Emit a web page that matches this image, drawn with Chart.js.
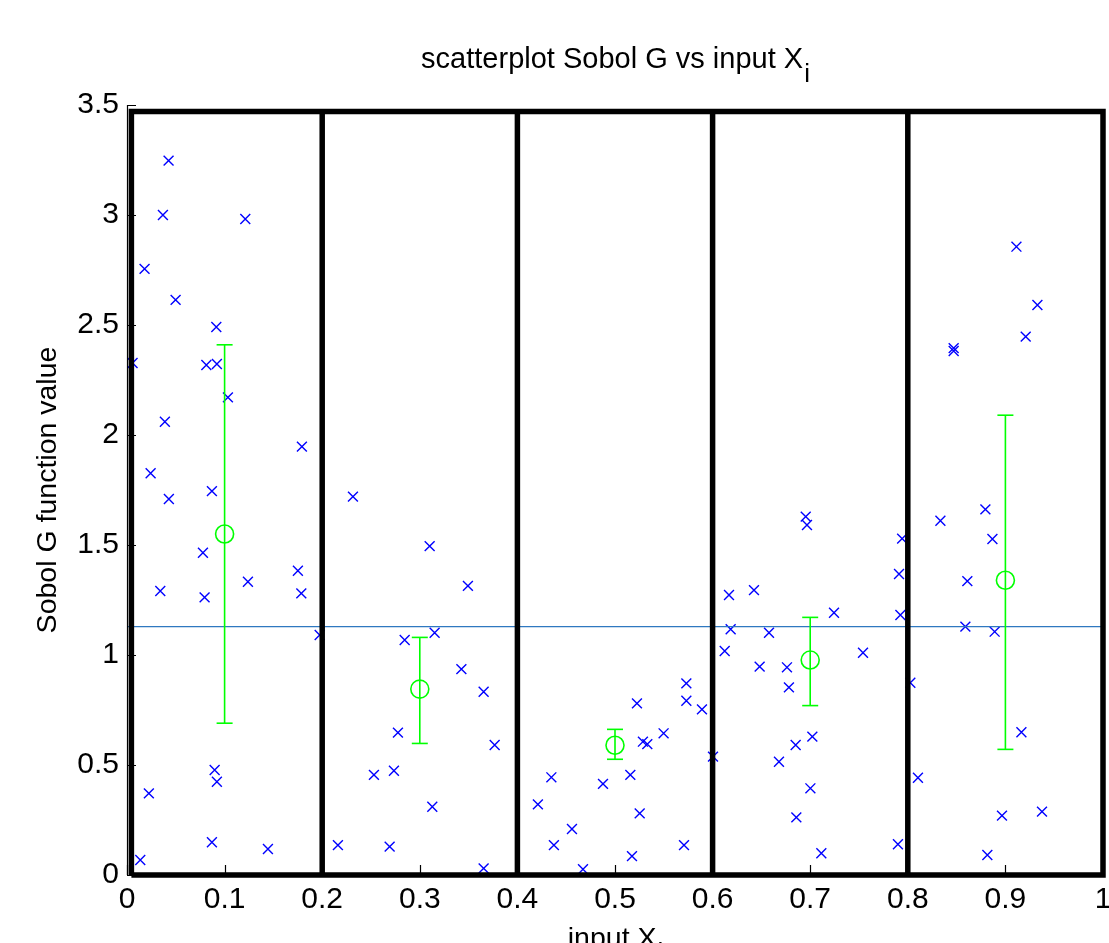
<!DOCTYPE html>
<html><head><meta charset="utf-8">
<script src="https://cdn.jsdelivr.net/npm/chart.js@4"></script>
<style>html,body{margin:0;padding:0;background:#fff;overflow:hidden}canvas{display:block}</style>
</head><body>
<canvas id="c" width="1109" height="943" style="width:1109px;height:943px"></canvas>
<script>
// ---------- data ----------
const xTickValues = [0, 0.1, 0.2, 0.3, 0.4, 0.5, 0.6, 0.7, 0.8, 0.9, 1];
const xTickLabels = ['0', '0.1', '0.2', '0.3', '0.4', '0.5', '0.6', '0.7', '0.8', '0.9', '1'];
const yTickValues = [0, 0.5, 1, 1.5, 2, 2.5, 3, 3.5];
const yTickLabels = ['0', '0.5', '1', '1.5', '2', '2.5', '3', '3.5'];

const sampleX = [
  0.0057,0.018,0.0426,0.0368,0.1212,0.0498,0.0915,0.0813,0.0921,0.1034,0.0388,0.1792,0.0242,0.087,
  0.0429,0.0778,0.1751,0.1239,0.0341,0.1786,0.0795,0.1974,0.0898,0.0921,0.0224,0.087,0.1444,0.0136,
  0.2315,0.3101,0.3493,0.3152,0.2845,0.3426,0.3654,0.2776,0.3767,0.253,0.2735,0.3128,0.2161,0.2691,0.3654,
  0.5731,0.5731,0.5891,0.5225,0.5498,0.5286,0.5331,0.6004,0.4348,0.5157,0.4877,0.421,0.5253,0.4559,0.4374,0.5707,0.5174,0.4672,
  0.6954,0.6967,0.6168,0.6424,0.7244,0.6185,0.6578,0.6124,0.7541,0.6482,0.6762,0.6782,0.7022,0.6851,0.668,0.7002,0.6858,0.7114,0.7899,0.7942,0.791,0.7924,
  0.9113,0.9328,0.9208,0.847,0.847,0.8795,0.8334,0.8867,0.861,0.859,0.889,0.8026,0.9164,0.8104,0.8965,0.9375,0.8815
];
const sampleY = [
  2.327,2.755,3.247,3.0,2.982,2.614,2.491,2.318,2.323,2.171,2.06,1.947,1.826,1.745,
  1.709,1.465,1.383,1.333,1.291,1.28,1.262,1.091,0.477,0.424,0.371,0.149,0.118,0.068,
  1.72,1.495,1.314,1.101,1.068,0.936,0.833,0.647,0.591,0.455,0.474,0.31,0.136,0.129,0.03,
  0.871,0.792,0.753,0.78,0.644,0.606,0.595,0.538,0.444,0.455,0.414,0.321,0.28,0.209,0.136,0.136,0.086,0.026,
  1.629,1.591,1.273,1.295,1.192,1.117,1.101,1.018,1.01,0.947,0.944,0.853,0.629,0.591,0.515,0.394,0.262,0.099,0.14,1.529,1.368,1.182,
  2.856,2.591,2.447,2.395,2.382,1.662,1.61,1.527,1.336,1.129,1.106,0.874,0.649,0.442,0.27,0.288,0.091
];

const binEdges = [0.0045, 0.2, 0.4, 0.6, 0.8, 1.0];
const binTop = 3.47;
const binCenters = [0.1, 0.3, 0.5, 0.7, 0.9];
const binMeans = [1.55, 0.845, 0.59, 0.977, 1.34];
const binLower = [0.69, 0.598, 0.526, 0.77, 0.571];
const binUpper = [2.41, 1.08, 0.662, 1.171, 2.09];
const overallMean = 1.129;

const titleMain = 'scatterplot Sobol G vs input X';
const titleSub = 'i';
const xLabelMain = 'input X';
const xLabelSub = 'i';
const yLabel = 'Sobol G function value';

// ---------- styles ----------
const FONT = "'Liberation Sans', Arial, sans-serif";
const TICK_FONT_SIZE = 30;
const TITLE_FONT_SIZE = 29;
const LABEL_FONT_SIZE = 28.5;
const SUB_FONT_SIZE = 26;
const BLUE = 'rgb(0,0,255)';
const GREEN = 'rgb(0,255,0)';
const MEAN_LINE = '#2f78c0';

// ---------- build datasets from data ----------
const points = sampleX.map((x, i) => ({ x: x, y: sampleY[i] }));

const binOutline = [];
for (let i = 0; i < binEdges.length - 1; i++) {
  const a = binEdges[i], b = binEdges[i + 1];
  binOutline.push({ x: a, y: 0 }, { x: a, y: binTop }, { x: b, y: binTop }, { x: b, y: 0 }, { x: a, y: 0 }, { x: a, y: null });
}

const errSegs = [];
const errCaps = [];
binCenters.forEach((c, i) => {
  errSegs.push({ x: c, y: binLower[i] }, { x: c, y: binUpper[i] }, { x: c, y: null });
  errCaps.push({ x: c, y: binLower[i] }, { x: c, y: binUpper[i] });
});
const meanPts = binCenters.map((c, i) => ({ x: c, y: binMeans[i] }));
const meanLine = [{ x: xTickValues[0], y: overallMean }, { x: xTickValues[xTickValues.length - 1], y: overallMean }];

// ---------- decorations plugin (inward ticks, titles) ----------
function drawWithSub(ctx, main, sub, cx, baseline, mainSize, subSize, drop) {
  ctx.font = mainSize + 'px ' + FONT;
  const mw = ctx.measureText(main).width;
  ctx.font = subSize + 'px ' + FONT;
  const sw = ctx.measureText(sub).width;
  const x0 = cx - (mw + sw) / 2;
  ctx.font = mainSize + 'px ' + FONT;
  ctx.fillText(main, x0, baseline);
  ctx.font = subSize + 'px ' + FONT;
  ctx.fillText(sub, x0 + mw + 1, baseline + drop);
}

const decor = {
  id: 'decor',
  afterDraw(chart) {
    const ctx = chart.ctx;
    const xs = chart.scales.x, ys = chart.scales.y;
    const a = chart.chartArea;
    ctx.save();
    ctx.strokeStyle = '#000';
    ctx.lineWidth = 1.2;
    ctx.beginPath();
    ctx.moveTo(a.left + 0.5, a.top);
    ctx.lineTo(a.left + 0.5, a.bottom);
    ctx.stroke();
    ctx.beginPath();
    xTickValues.forEach(v => {
      const px = Math.round(xs.getPixelForValue(v)) + 0.5;
      ctx.moveTo(px, a.bottom);
      ctx.lineTo(px, a.bottom - 10);
    });
    yTickValues.forEach(v => {
      const py = Math.round(ys.getPixelForValue(v)) + 0.5;
      ctx.moveTo(a.left, py);
      ctx.lineTo(a.left + 9, py);
    });
    ctx.stroke();

    ctx.fillStyle = '#000';
    ctx.textBaseline = 'alphabetic';
    ctx.textAlign = 'left';
    const cx = (a.left + a.right) / 2;
    drawWithSub(ctx, titleMain, titleSub, cx, 68, TITLE_FONT_SIZE, SUB_FONT_SIZE, 14);
    drawWithSub(ctx, xLabelMain, xLabelSub, cx, 947, LABEL_FONT_SIZE, SUB_FONT_SIZE, 14);
    ctx.font = LABEL_FONT_SIZE + 'px ' + FONT;
    ctx.translate(56, (a.top + a.bottom) / 2);
    ctx.rotate(-Math.PI / 2);
    ctx.textAlign = 'center';
    ctx.fillText(yLabel, 0, 0);
    ctx.restore();
  }
};

new Chart(document.getElementById('c'), {
  type: 'scatter',
  data: {
    datasets: [
      { label: 'mean', data: meanPts, pointStyle: 'circle', pointRadius: 9, borderColor: GREEN,
        backgroundColor: 'rgba(0,0,0,0)', borderWidth: 1.6, order: 0, clip: false },
      { label: 'caps', data: errCaps, pointStyle: 'line', pointRadius: 8, borderColor: GREEN,
        borderWidth: 1.6, order: 1, clip: false },
      { type: 'line', label: 'err', data: errSegs, borderColor: GREEN, borderWidth: 1.6,
        pointRadius: 0, spanGaps: false, order: 1, clip: false },
      { type: 'line', label: 'bins', data: binOutline, borderColor: '#000', borderWidth: 5.5,
        pointRadius: 0, spanGaps: false, order: 2, clip: false, borderJoinStyle: 'miter' },
      { type: 'line', label: 'overall', data: meanLine, borderColor: MEAN_LINE, borderWidth: 1.3,
        pointRadius: 0, order: 3 },
      { label: 'samples', data: points, pointStyle: 'crossRot', pointRadius: 7, borderColor: BLUE,
        backgroundColor: BLUE, borderWidth: 1.4, order: 4, clip: false }
    ]
  },
  options: {
    responsive: false,
    animation: false,
    devicePixelRatio: 1,
    events: [],
    layout: { autoPadding: false, padding: { top: 105, right: 6, left: 0, bottom: 0 } },
    plugins: { legend: { display: false }, tooltip: { enabled: false }, title: { display: false } },
    scales: {
      x: {
        type: 'linear', min: 0, max: 1,
        afterBuildTicks: s => { s.ticks = xTickValues.map(v => ({ value: v })); },
        afterFit: s => { s.height = 68; s.paddingLeft = 0; s.paddingRight = 0; },
        ticks: { callback: (v, i) => xTickLabels[i], font: { family: FONT, size: TICK_FONT_SIZE },
                 color: '#000', padding: 7, maxRotation: 0, autoSkip: false },
        grid: { display: false, drawTicks: false },
        border: { display: false }
      },
      y: {
        type: 'linear', min: 0, max: 3.5,
        afterBuildTicks: s => { s.ticks = yTickValues.map(v => ({ value: v })); },
        afterFit: s => { s.width = 127; s.paddingTop = 0; s.paddingBottom = 0; },
        ticks: { callback: (v, i) => yTickLabels[i], font: { family: FONT, size: TICK_FONT_SIZE },
                 color: '#000', padding: 8, autoSkip: false },
        grid: { display: false, drawTicks: false },
        border: { display: false }
      }
    }
  },
  plugins: [decor]
});
</script>
</body></html>
